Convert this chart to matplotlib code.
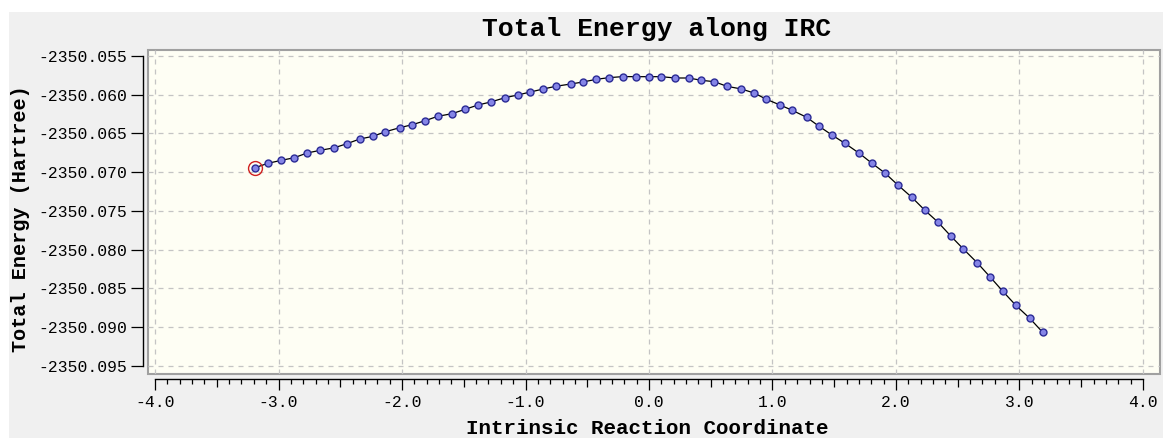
import numpy as np
import matplotlib
matplotlib.use("Agg")
import matplotlib.pyplot as plt
from matplotlib.ticker import FixedLocator, FuncFormatter
from matplotlib.patches import Rectangle

# ---------------- data ----------------
irc_coord = [-3.190, -3.089, -2.979, -2.874, -2.769, -2.666, -2.547, -2.447, -2.342, -2.237,
             -2.134, -2.019, -1.916, -1.814, -1.711, -1.595, -1.490, -1.385, -1.282, -1.167,
             -1.064, -0.961, -0.856, -0.754, -0.635, -0.536, -0.427, -0.325, -0.212, -0.104,
             -0.002, 0.101, 0.209, 0.320, 0.425, 0.530, 0.630, 0.748, 0.851, 0.951,
             1.061, 1.161, 1.277, 1.374, 1.482, 1.587, 1.703, 1.806, 1.911, 2.013,
             2.129, 2.235, 2.337, 2.442, 2.544, 2.660, 2.763, 2.866, 2.971, 3.084, 3.189]
total_energy = [-2350.06943, -2350.06887, -2350.06848, -2350.06814, -2350.06753, -2350.06719,
                -2350.06685, -2350.06633, -2350.06572, -2350.06538, -2350.06478, -2350.06426,
                -2350.06387, -2350.06336, -2350.06279, -2350.06245, -2350.06189, -2350.06133,
                -2350.06094, -2350.06039, -2350.06004, -2350.05965, -2350.05926, -2350.05891,
                -2350.05862, -2350.05836, -2350.05801, -2350.05780, -2350.05766, -2350.05767,
                -2350.05767, -2350.05767, -2350.05784, -2350.05784, -2350.05814, -2350.05832,
                -2350.05891, -2350.05926, -2350.05978, -2350.06059, -2350.06133, -2350.06202,
                -2350.06292, -2350.06404, -2350.06521, -2350.06628, -2350.06757, -2350.06886,
                -2350.07012, -2350.07163, -2350.07326, -2350.07494, -2350.07641, -2350.07822,
                -2350.07990, -2350.08174, -2350.08355, -2350.08540, -2350.08721, -2350.08889,
                -2350.09070]
highlight_index = 0

x_ticks = [-4.0, -3.0, -2.0, -1.0, 0.0, 1.0, 2.0, 3.0, 4.0]
y_ticks = [-2350.095, -2350.090, -2350.085, -2350.080, -2350.075,
           -2350.070, -2350.065, -2350.060, -2350.055]

title_text = "Total Energy along IRC"
xlabel_text = "Intrinsic Reaction Coordinate"
ylabel_text = "Total Energy (Hartree)"

# ---------------- style ----------------
W, H = 1164, 441
fig = plt.figure(figsize=(W / 100, H / 100), dpi=100)
fig.patch.set_facecolor("white")
fig.patches.append(Rectangle((9 / W, 1 - 438 / H), (1163 - 9) / W, (438 - 12) / H,
                             transform=fig.transFigure, facecolor="#f0f0f0",
                             edgecolor="none", zorder=-10))

mono = ["Liberation Mono", "DejaVu Sans Mono"]

left, right, top, bottom = 148, 1160, 50, 374
pos = [left / W, 1 - bottom / H, (right - left) / W, (bottom - top) / H]
ax = fig.add_axes(pos)
ax.patch.set_facecolor("#fefef4")
ax.patch.set_edgecolor("#a0a0a0")
ax.patch.set_linewidth(1.5)

xlim = (-4.057, 4.138)
ylim = (-2350.09607, -2350.054225)
ax.set_xlim(*xlim)
ax.set_ylim(*ylim)

ax.plot(irc_coord, total_energy, color="black", linewidth=0.9, zorder=3)
ax.plot(irc_coord, total_energy, linestyle="none", marker="o", markersize=5,
        markerfacecolor="#8585e6", markeredgecolor="#2b2b95", markeredgewidth=1.0, zorder=4)
ax.plot([irc_coord[highlight_index]], [total_energy[highlight_index]], linestyle="none",
        marker="o", markersize=10, markerfacecolor="none", markeredgecolor="#d02020",
        markeredgewidth=1.0, zorder=5)

for s in ["top", "right"]:
    ax.spines[s].set_visible(False)
ax.spines["left"].set_position(("outward", 3.6))
ax.spines["bottom"].set_position(("outward", 3.6))
ax.spines["left"].set_bounds(y_ticks[0], y_ticks[-1])
ax.spines["bottom"].set_bounds(x_ticks[0], x_ticks[-1])
for s in ["left", "bottom"]:
    ax.spines[s].set_linewidth(1.0)
    ax.spines[s].set_color("black")

minor_x = [v for v in np.round(np.arange(x_ticks[0], x_ticks[-1] + 0.01, 0.1), 2)
           if abs(v * 2 - round(v * 2)) > 1e-6]
ax.xaxis.set_major_locator(FixedLocator(x_ticks))
ax.xaxis.set_minor_locator(FixedLocator(minor_x))
ax.yaxis.set_major_locator(FixedLocator(y_ticks))
ax.xaxis.set_major_formatter(FuncFormatter(lambda v, p: f"{v:.1f}"))
ax.yaxis.set_major_formatter(FuncFormatter(lambda v, p: f"{v:.3f}"))

ax.tick_params(axis="x", which="major", direction="out", length=8, width=0.9, pad=3.5,
               labelsize=11.8)
ax.tick_params(axis="x", which="minor", direction="out", length=3.6, width=0.9)
ax.tick_params(axis="y", which="major", direction="out", length=8.6, width=0.9, pad=2.5,
               labelsize=11.8)
for lab in ax.get_xticklabels() + ax.get_yticklabels():
    lab.set_family(mono)

ax.grid(True, which="major", color="#c4c4c4", linestyle=(0, (4, 4)), linewidth=0.9)
ax.set_axisbelow(True)

# medium ticks at the half units
ax3 = fig.add_axes(pos)
ax3.set_xlim(*xlim)
ax3.set_ylim(*ylim)
ax3.patch.set_visible(False)
for s in ["top", "right", "left"]:
    ax3.spines[s].set_visible(False)
ax3.spines["bottom"].set_position(("outward", 3.6))
ax3.spines["bottom"].set_visible(False)
ax3.set_yticks([])
ax3.xaxis.set_major_locator(FixedLocator(list(np.arange(-3.5, 4.0, 1.0))))
ax3.xaxis.set_minor_locator(FixedLocator([]))
ax3.tick_params(axis="x", which="major", direction="out", length=5.8, width=0.9,
                labelbottom=False)

fig.text(657 / W, 1 - 29 / H, title_text, ha="center", va="center",
         fontsize=19, fontweight="bold", family=mono)
fig.text(647 / W, 1 - 428 / H, xlabel_text, ha="center", va="center",
         fontsize=15, fontweight="bold", family=mono)
fig.text(21 / W, 1 - 219 / H, ylabel_text, ha="center", va="center", rotation=90,
         fontsize=14.5, fontweight="bold", family=mono)

fig.savefig("out.png", dpi=100, facecolor=fig.get_facecolor())
